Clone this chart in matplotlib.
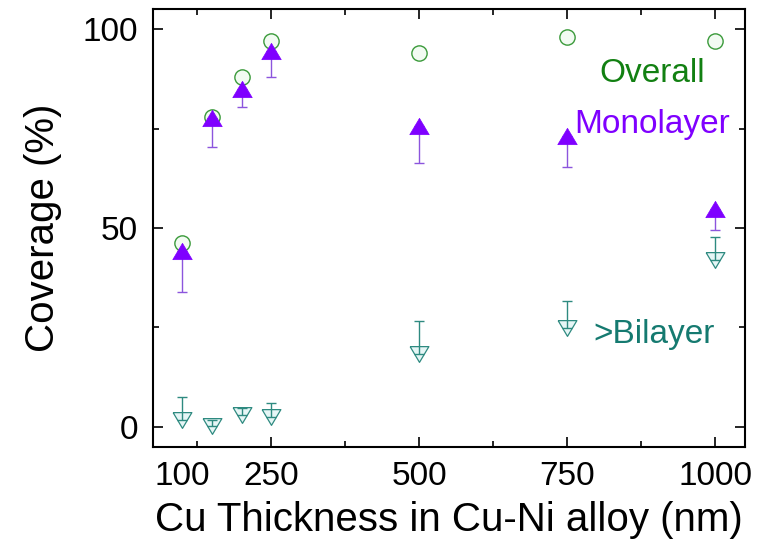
import matplotlib
matplotlib.use("Agg")
import matplotlib.pyplot as plt
import numpy as np

plt.rcParams['font.family'] = ['Liberation Sans', 'DejaVu Sans']

thickness = [100, 150, 200, 250, 500, 750, 1000]
overall = [46.2, 78.0, 88.0, 97.0, 94.0, 98.0, 97.0]
mono = [44.3, 77.7, 85.0, 94.4, 75.7, 73.1, 54.8]
mono_err_low = [10.5, 7.4, 4.6, 6.4, 9.4, 7.7, 5.3]
bilayer = [1.8, 0.3, 3.0, 2.5, 18.2, 24.9, 42.0]
bilayer_err_up = [5.7, 1.5, 1.8, 3.5, 8.5, 6.7, 5.7]

xticks = [100, 250, 500, 750, 1000]
xtick_labels = ['100', '250', '500', '750', '1000']
xminor = [125, 375, 625, 875]
yticks = [0, 50, 100]
yminor = [25, 75]

c_green_edge = '#3a9a3a'
c_green_fill = '#f2fbf2'
c_green_text = '#128012'
c_purple = '#7f00ff'
c_purple_err = '#8c55dd'
c_teal = '#2e8a80'
c_teal_fill = '#e6f6f6'
c_teal_text = '#157a70'

fig = plt.figure(figsize=(7.82, 5.49), dpi=100)
ax = fig.add_axes([0.1953, 0.1864, 0.7574, 0.7966])

tri_up = [(-1, -0.84), (1, -0.84), (0, 0.84), (-1, -0.84)]
tri_dn = [(-1, 0.84), (1, 0.84), (0, -0.84), (-1, 0.84)]

x = np.array(thickness)
ax.plot(x, overall, linestyle='none', marker='o', markersize=11,
        markerfacecolor=c_green_fill, markeredgecolor=c_green_edge,
        markeredgewidth=1.0, zorder=3)
ax.plot(x, bilayer, linestyle='none', marker=tri_dn, markersize=13.5,
        markerfacecolor=c_teal_fill, markeredgecolor=c_teal,
        markeredgewidth=0.9, zorder=3)
ax.errorbar(x, bilayer, yerr=[np.zeros(len(x)), bilayer_err_up], fmt='none',
            ecolor=c_teal, elinewidth=1.0, capsize=3.5, capthick=1.0, zorder=4)
ax.errorbar(x, mono, yerr=[mono_err_low, np.zeros(len(x))], fmt='none',
            ecolor=c_purple_err, elinewidth=1.0, capsize=3.5, capthick=1.0, zorder=4)
ax.plot(x, mono, linestyle='none', marker=tri_up, markersize=14,
        markerfacecolor=c_purple, markeredgecolor=c_purple,
        markeredgewidth=0.5, zorder=5)

ax.set_xlim(50, 1050)
ax.set_ylim(-5, 105)
ax.set_xticks(xticks)
ax.set_xticklabels(xtick_labels)
ax.set_xticks(xminor, minor=True)
ax.set_yticks(yticks)
ax.set_yticks(yminor, minor=True)

ax.tick_params(which='both', direction='in', top=True, right=True, width=1.2,
               labelsize=24)
ax.tick_params(which='major', length=7.5)
ax.tick_params(which='minor', length=4.2)
ax.tick_params(axis='x', which='major', pad=10.5)
ax.tick_params(axis='y', which='major', pad=10.5)
t0 = ax.xaxis.get_major_ticks()[0]
t0.tick1line.set_visible(False)
t0.tick2line.set_visible(False)
for s in ax.spines.values():
    s.set_linewidth(1.5)

ax.set_xlabel('Cu Thickness in Cu-Ni alloy (nm)', fontsize=29, labelpad=6)
ax.set_ylabel('Coverage (%)', fontsize=29, labelpad=15)

ax.text(894, 86.8, 'Overall', color=c_green_text, fontsize=24, ha='center', va='baseline')
ax.text(894, 73.9, 'Monolayer', color=c_purple, fontsize=24, ha='center', va='baseline')
ax.text(896, 21.0, '>Bilayer', color=c_teal_text, fontsize=24, ha='center', va='baseline')

fig.savefig('out.png', dpi=100)
